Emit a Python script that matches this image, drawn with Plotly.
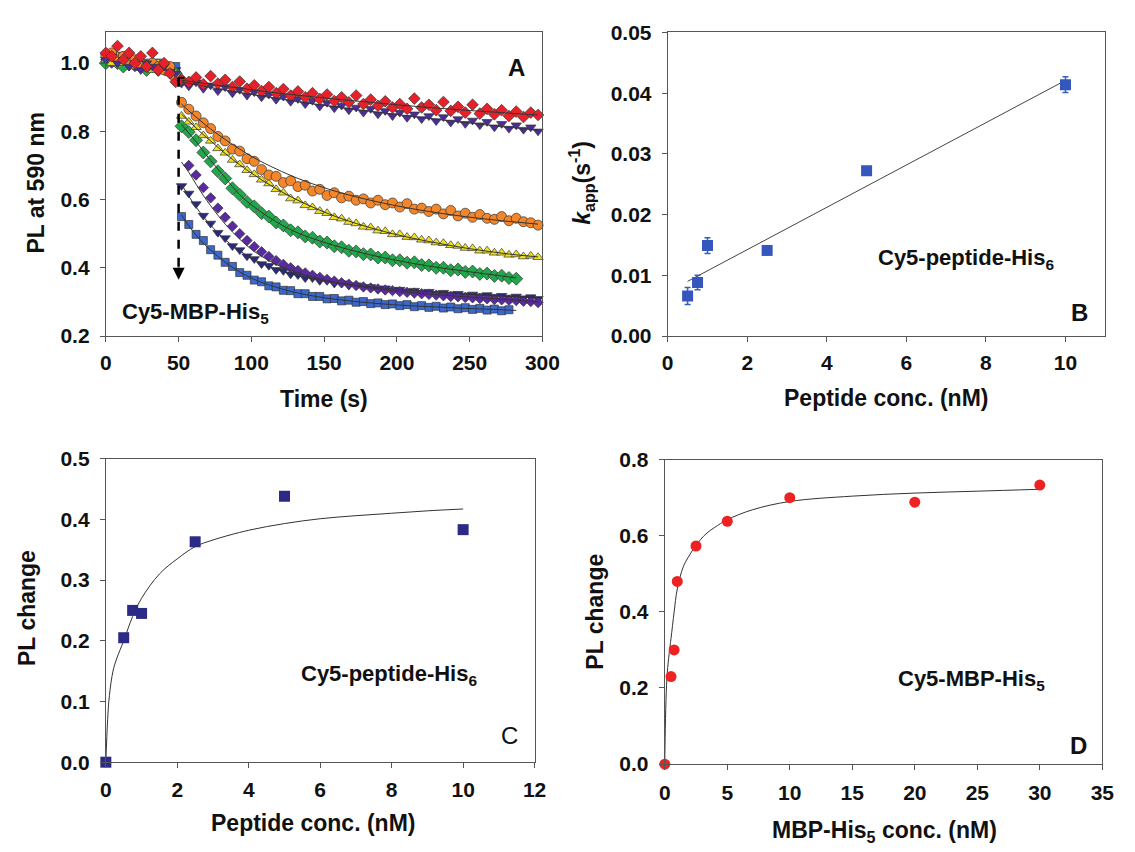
import plotly.graph_objects as go

W, H = 1135, 852

# ---------------- Panel A data (PL at 590 nm vs time) ----------------
T_PRE = [0, 4, 8, 12, 16, 20, 24, 28, 32, 36, 40, 44, 48]
T_POST = [52, 57, 62, 67, 72, 77, 82, 87, 92, 97, 102, 107, 112, 117, 122, 127, 132, 137,
          142, 147, 152, 157, 162, 167, 172, 177, 182, 187, 192, 197, 202, 207, 212, 217,
          222, 227, 232, 237, 242, 247, 252, 257, 262, 267, 272, 277, 282, 287, 292, 297]

RED_PRE = [1.03, 1.02, 1.05, 1.01, 1.03, 1.00, 1.02, 0.99, 1.03, 0.98, 1.00, 0.97, 0.945]
RED_POST = [0.952, 0.945, 0.958, 0.938, 0.962, 0.940, 0.951, 0.930, 0.946, 0.925, 0.935, 0.918,
            0.930, 0.912, 0.924, 0.905, 0.917, 0.900, 0.912, 0.895, 0.908, 0.889, 0.900, 0.885,
            0.905, 0.880, 0.893, 0.875, 0.888, 0.870, 0.880, 0.866, 0.896, 0.870, 0.878, 0.862,
            0.886, 0.860, 0.872, 0.855, 0.878, 0.852, 0.866, 0.850, 0.862, 0.845, 0.858, 0.842,
            0.855, 0.848]

VIOT_PRE = [1.01, 1.02, 1.00, 1.01, 0.99, 1.00, 0.98, 1.00, 0.99, 0.98, 0.99, 0.975, 0.97]
VIOT_POST = [0.940, 0.932, 0.944, 0.925, 0.935, 0.918, 0.930, 0.912, 0.922, 0.905, 0.915, 0.900,
             0.908, 0.893, 0.902, 0.887, 0.895, 0.880, 0.890, 0.873, 0.884, 0.868, 0.876, 0.862,
             0.870, 0.855, 0.866, 0.850, 0.860, 0.845, 0.855, 0.840, 0.850, 0.836, 0.845, 0.830,
             0.842, 0.826, 0.836, 0.822, 0.832, 0.818, 0.828, 0.812, 0.822, 0.808, 0.818, 0.805,
             0.812, 0.800]

ORANGE_PRE = [1.02, 1.03, 1.01, 1.02, 1.00, 1.01, 1.00, 0.99, 1.00, 0.99, 0.98, 0.99, 0.955]
ORANGE_POST = [0.885, 0.865, 0.845, 0.825, 0.808, 0.785, 0.772, 0.748, 0.742, 0.720, 0.712, 0.688,
               0.672, 0.668, 0.650, 0.655, 0.638, 0.642, 0.625, 0.630, 0.612, 0.620, 0.605, 0.610,
               0.598, 0.602, 0.590, 0.598, 0.585, 0.590, 0.578, 0.588, 0.572, 0.575, 0.565, 0.572,
               0.558, 0.568, 0.552, 0.560, 0.548, 0.556, 0.545, 0.542, 0.550, 0.538, 0.545, 0.535,
               0.532, 0.525]

YELLOW_PRE = [1.01, 1.00, 1.02, 1.00, 1.01, 0.99, 1.00, 0.99, 0.98, 1.00, 0.98, 0.97, 0.97]
YELLOW_POST = [0.845, 0.828, 0.812, 0.788, 0.772, 0.750, 0.737, 0.716, 0.703, 0.686, 0.674, 0.658,
               0.647, 0.630, 0.620, 0.603, 0.597, 0.583, 0.577, 0.566, 0.560, 0.548, 0.544, 0.534,
               0.530, 0.520, 0.518, 0.509, 0.507, 0.498, 0.498, 0.490, 0.489, 0.482, 0.480, 0.474,
               0.472, 0.466, 0.464, 0.458, 0.457, 0.450, 0.450, 0.444, 0.444, 0.438, 0.439, 0.433,
               0.435, 0.431]

GREEN_PRE = [1.00, 1.01, 1.00, 0.99, 1.00, 1.00, 0.99, 0.98, 0.99, 0.98, 0.99, 0.98, 0.97]
GREEN_POST = [0.815, 0.798, 0.774, 0.738, 0.712, 0.683, 0.662, 0.633, 0.614, 0.593, 0.580, 0.560,
              0.550, 0.533, 0.524, 0.510, 0.504, 0.492, 0.488, 0.477, 0.474, 0.463, 0.460, 0.450,
              0.448, 0.440, 0.439, 0.430, 0.430, 0.422, 0.422, 0.415, 0.416, 0.408, 0.407, 0.400,
              0.400, 0.393, 0.395, 0.388, 0.389, 0.382, 0.383, 0.376, 0.377, 0.370, 0.368, None,
              None, None]

VIOD_PRE = [1.01, 1.00, 1.01, 0.99, 1.00, 0.99, 1.00, 0.98, 0.99, 0.99, 0.98, 0.98, 0.97]
VIOD_POST = [None, 0.700, 0.672, 0.635, 0.605, 0.575, 0.548, 0.522, 0.500, 0.480, 0.462, 0.447,
             0.433, 0.421, 0.410, 0.400, 0.392, 0.385, 0.378, 0.372, 0.366, 0.361, 0.356, 0.352,
             0.348, 0.344, 0.341, 0.338, 0.335, 0.333, 0.330, 0.328, 0.326, 0.324, 0.322, 0.320,
             0.318, 0.316, 0.315, 0.313, 0.312, 0.310, 0.309, 0.307, 0.306, 0.305, 0.304, 0.302,
             0.301, 0.298]

NAVY_PRE = [1.02, 1.01, 1.00, 1.01, 0.99, 1.00, 0.99, 0.99, 1.00, 0.98, 0.99, 0.98, 0.98]
NAVY_POST = [0.640, 0.618, 0.587, 0.553, 0.530, 0.503, 0.487, 0.464, 0.452, 0.434, 0.426, 0.411,
             0.406, 0.394, 0.391, 0.381, 0.379, 0.370, 0.370, 0.362, 0.362, 0.354, 0.355, 0.348,
             0.349, 0.343, 0.344, 0.338, 0.340, 0.334, 0.336, 0.330, 0.333, 0.327, 0.330, 0.324,
             0.327, 0.322, 0.324, 0.319, 0.322, 0.317, 0.320, 0.315, 0.318, 0.313, 0.316, 0.311,
             0.314, 0.309]

BLUE_PRE = [1.02, 1.01, 1.02, 1.00, 1.01, 1.00, 0.99, 1.00, 0.99, 1.00, 0.99, 0.98, 0.99]
BLUE_POST = [0.550, 0.527, 0.498, 0.480, 0.453, 0.437, 0.416, 0.404, 0.386, 0.378, 0.364, 0.359,
             0.347, 0.344, 0.334, 0.333, 0.324, 0.324, 0.316, 0.316, 0.309, 0.310, 0.303, 0.305,
             0.299, 0.301, 0.295, 0.297, 0.292, 0.294, 0.289, 0.292, 0.286, 0.289, 0.284, 0.287,
             0.282, 0.285, 0.280, 0.283, 0.278, 0.281, 0.276, 0.279, 0.274, 0.277, None, None,
             None, None]

# fitted curves
FIT_T = [52, 57, 62, 67, 72, 82, 92, 102, 117, 132, 152, 172, 197, 222, 247, 272, 282, 297]
FIT_RED = [0.950, 0.947, 0.944, 0.941, 0.938, 0.932, 0.927, 0.921, 0.913, 0.906, 0.897, 0.889,
           0.879, 0.870, 0.862, 0.855, 0.852, 0.848]
FIT_VIOT = [0.945, 0.941, 0.937, 0.933, 0.929, 0.921, 0.914, 0.907, 0.897, 0.887, 0.875, 0.864,
            0.851, 0.838, 0.826, 0.814, 0.810, 0.803]
FIT_ORANGE = [0.880, 0.860, 0.842, 0.824, 0.807, 0.776, 0.748, 0.722, 0.690, 0.662, 0.632, 0.608,
              0.584, 0.565, 0.550, 0.538, 0.534, 0.528]
FIT_YELLOW = [0.850, 0.830, 0.810, 0.790, 0.772, 0.735, 0.702, 0.672, 0.632, 0.598, 0.560, 0.530,
              0.500, 0.477, 0.458, 0.443, 0.438, 0.432]
FIT_GREEN = [0.820, 0.795, 0.770, 0.742, 0.715, 0.664, 0.614, 0.578, 0.535, 0.502, 0.472, 0.448,
             0.424, 0.405, 0.390, 0.376, 0.370, None]
FIT_VIOD = [0.710, 0.680, 0.645, 0.612, 0.582, 0.528, 0.484, 0.448, 0.410, 0.385, 0.362, 0.347,
            0.333, 0.323, 0.315, 0.308, 0.305, 0.300]
FIT_NAVY = [0.645, 0.610, 0.578, 0.550, 0.525, 0.482, 0.450, 0.424, 0.396, 0.378, 0.360, 0.349,
            0.338, 0.330, 0.323, 0.317, 0.315, 0.312]
FIT_BLUE = [0.555, 0.523, 0.496, 0.472, 0.452, 0.416, 0.388, 0.366, 0.343, 0.326, 0.311, 0.301,
            0.292, 0.286, 0.281, 0.277, 0.275, None]

# ---------------- Panel B data (k_app vs peptide conc.) ----------------
B_CONC = [0.5, 0.75, 1.0, 2.5, 5.0, 10.0]
B_KAPP = [0.0066, 0.0088, 0.0149, 0.0141, 0.0272, 0.0414]
B_ERR = [0.0014, 0.0012, 0.0013, 0.0007, 0.0006, 0.0013]
B_FIT_X = [0.5, 10.0]
B_FIT_Y = [0.0090, 0.0421]

# ---------------- Panel C data (PL change vs peptide conc.) ----------------
C_CONC = [0.0, 0.5, 0.75, 1.0, 2.5, 5.0, 10.0]
C_PL = [0.0, 0.205, 0.250, 0.245, 0.363, 0.438, 0.383]
C_FIT_X = [0.0, 0.05, 0.1, 0.2, 0.3, 0.5, 0.75, 1.0, 1.5, 2.0, 2.5, 3.0, 4.0, 5.0, 6.0, 7.0, 8.0, 9.0, 10.0]
C_FIT_Y = [0.0, 0.07, 0.11, 0.15, 0.17, 0.20, 0.24, 0.27, 0.31, 0.335, 0.355, 0.366, 0.382, 0.393,
           0.401, 0.406, 0.410, 0.414, 0.417]

# ---------------- Panel D data (PL change vs MBP-His5 conc.) ----------------
D_CONC = [0.0, 0.5, 0.75, 1.0, 2.5, 5.0, 10.0, 20.0, 30.0]
D_PL = [0.0, 0.23, 0.30, 0.48, 0.573, 0.638, 0.700, 0.688, 0.733]
D_FIT_X = [0.0, 0.03, 0.1, 0.2, 0.35, 0.5, 0.75, 1.0, 1.5, 2.0, 2.5, 3.3, 4.0, 5.0, 7.0, 10.0,
           15.0, 20.0, 25.0, 30.0]
D_FIT_Y = [0.0, 0.07, 0.17, 0.24, 0.29, 0.33, 0.40, 0.46, 0.52, 0.55, 0.575, 0.605, 0.622, 0.642,
           0.668, 0.690, 0.704, 0.712, 0.717, 0.722]

FONT = "Liberation Sans, Arial, sans-serif"
AXC = "#555555"
TXT = "#111111"

fig = go.Figure()

# ---- panel A traces ----
seriesA = [
    (BLUE_PRE, BLUE_POST, "square", 8, "#3a68cc"),
    (NAVY_PRE, NAVY_POST, "triangle-down", 9, "#28288a"),
    (VIOD_PRE, VIOD_POST, "diamond", 8, "#5a2aa0"),
    (GREEN_PRE, GREEN_POST, "diamond", 10, "#22a84a"),
    (YELLOW_PRE, YELLOW_POST, "triangle-up", 9, "#f0e21e"),
    (ORANGE_PRE, ORANGE_POST, "circle", 10, "#f3862a"),
    (VIOT_PRE, VIOT_POST, "triangle-down", 9, "#4c2c9c"),
    (RED_PRE, RED_POST, "diamond", 9, "#e8202a"),
]
for pre, post, sym, size, col in seriesA:
    fig.add_trace(go.Scatter(
        x=T_PRE + T_POST, y=pre + post, mode="markers", xaxis="x", yaxis="y",
        marker=dict(symbol=sym, size=size, color=col, line=dict(color="#333333", width=0.7)),
        showlegend=False, cliponaxis=False))

for fy in [FIT_BLUE, FIT_NAVY, FIT_VIOD, FIT_GREEN, FIT_YELLOW, FIT_ORANGE, FIT_VIOT, FIT_RED]:
    fig.add_trace(go.Scatter(
        x=FIT_T, y=fy, mode="lines", xaxis="x", yaxis="y",
        line=dict(color="#333333", width=1, shape="spline"), showlegend=False))

# ---- panel B ----
fig.add_trace(go.Scatter(x=B_FIT_X, y=B_FIT_Y, mode="lines", xaxis="x2", yaxis="y2",
                         line=dict(color="#444444", width=1), showlegend=False))
fig.add_trace(go.Scatter(x=B_CONC, y=B_KAPP, mode="markers", xaxis="x2", yaxis="y2",
                         error_y=dict(type="data", array=B_ERR, color="#3a5cc0", thickness=1.5, width=3),
                         marker=dict(symbol="square", size=11, color="#3557bd"), showlegend=False))

# ---- panel C ----
fig.add_trace(go.Scatter(x=C_FIT_X, y=C_FIT_Y, mode="lines", xaxis="x3", yaxis="y3",
                         line=dict(color="#333333", width=1, shape="spline"), showlegend=False))
fig.add_trace(go.Scatter(x=C_CONC, y=C_PL, mode="markers", xaxis="x3", yaxis="y3",
                         marker=dict(symbol="square", size=11, color="#2b2b86"), showlegend=False,
                         cliponaxis=False))

# ---- panel D ----
fig.add_trace(go.Scatter(x=D_FIT_X, y=D_FIT_Y, mode="lines", xaxis="x4", yaxis="y4",
                         line=dict(color="#333333", width=1, shape="spline"), showlegend=False))
fig.add_trace(go.Scatter(x=D_CONC, y=D_PL, mode="markers", xaxis="x4", yaxis="y4",
                         marker=dict(symbol="circle", size=11, color="#ee2222"), showlegend=False,
                         cliponaxis=False))


def px(x):
    return x / W


def py(y):
    return 1 - y / H


def ax_style(rng, dtick, fmt, dom, standoff):
    return dict(range=rng, dtick=dtick, tick0=0, tickformat=fmt, domain=dom, showline=True,
                linecolor=AXC, linewidth=1, mirror=True, ticks="outside", ticklen=5, tickcolor=AXC,
                showgrid=False, zeroline=False, ticklabelstandoff=standoff,
                tickfont=dict(family=FONT, size=21, color=TXT, weight="bold"))


fig.update_layout(
    width=W, height=H, margin=dict(l=0, r=0, t=0, b=0),
    paper_bgcolor="white", plot_bgcolor="white",
    xaxis=ax_style([0, 300], 50, "d", [px(102), px(548)], 3),
    yaxis=ax_style([0.2, 1.09], 0.2, ".1f", [py(333), py(21)], 6),
    xaxis2=ax_style([0, 11], 2, "d", [px(676), px(1123)], 3),
    yaxis2=ax_style([0, 0.05], 0.01, ".2f", [py(333), py(21)], 6),
    xaxis3=ax_style([0, 12], 2, "d", [px(102), px(540)], 4),
    yaxis3=ax_style([0, 0.5], 0.1, ".1f", [py(771), py(459)], 6),
    xaxis4=ax_style([0, 35], 5, "d", [px(673), px(1120)], 5),
    yaxis4=ax_style([0, 0.8], 0.2, ".1f", [py(773), py(460)], 6),
)
fig.layout.yaxis.tickvals = [0.2, 0.4, 0.6, 0.8, 1.0]
fig.layout.xaxis2.tickvals = [0, 2, 4, 6, 8, 10]
for i in ("2", "3", "4"):
    fig.layout["xaxis" + i].anchor = "y" + i
    fig.layout["yaxis" + i].anchor = "x" + i

# dashed injection arrow in panel A
ARROW_T = 50
ARROW_TOP = 0.957
ARROW_BOT = 0.385
ARROW_TIP = 0.365
fig.add_shape(type="line", xref="x", yref="y", x0=ARROW_T, x1=ARROW_T, y0=ARROW_TOP, y1=ARROW_BOT,
              line=dict(color="black", width=2.5, dash="dash"))
fig.add_shape(type="line", xref="x", yref="y", x0=ARROW_T, x1=ARROW_T + 4, y0=ARROW_TOP, y1=ARROW_TOP,
              line=dict(color="black", width=2))
fig.add_annotation(x=ARROW_T, y=ARROW_TIP, ax=ARROW_T, ay=ARROW_BOT + 0.02, xref="x", yref="y",
                   axref="x", ayref="y", text="", showarrow=True, arrowhead=2, arrowsize=1.2,
                   arrowwidth=2, arrowcolor="black")

TF = dict(family=FONT, size=23, color=TXT, weight="bold")
LF = dict(family=FONT, size=22, color=TXT, weight="bold")
LETTER = dict(family=FONT, size=24, color=TXT, weight="bold")


def ann(text, x, y, xref="paper", yref="paper", angle=0, font=TF, xanchor="center", yanchor="middle"):
    fig.add_annotation(text=text, x=x, y=y, xref=xref, yref=yref, textangle=angle, font=font,
                       showarrow=False, xanchor=xanchor, yanchor=yanchor)


# axis titles
ann("PL at 590 nm", px(31), py(176), angle=-90)
ann("Time (s)", px(325), py(398))
ann("<i>k</i><sub>app</sub>(s<sup>-1</sup>)", px(588), py(176), angle=-90)
ann("Peptide conc. (nM)", px(899), py(397))
ann("PL change", px(22), py(613), angle=-90)
ann("Peptide conc. (nM)", px(314), py(834))
ann("PL change", px(602), py(616), angle=-90)
ann("MBP-His<sub>5</sub> conc. (nM)", px(897), py(842))

# in-panel labels
ann("A", 282, 0.986, xref="x", yref="y", font=LETTER)
ann("Cy5-MBP-His<sub>5</sub>", 10, 0.268, xref="x", yref="y", xanchor="left", font=LF)
ann("Cy5-peptide-His<sub>6</sub>", 7.5, 0.0127, xref="x2", yref="y2", font=LF)
ann("B", 10.35, 0.0039, xref="x2", yref="y2", font=LETTER)
ann("Cy5-peptide-His<sub>6</sub>", 7.93, 0.143, xref="x3", yref="y3", font=LF)
ann("C", 11.29, 0.044, xref="x3", yref="y3", font=dict(family=FONT, size=24, color=TXT, weight="normal"))
ann("Cy5-MBP-His<sub>5</sub>", 24.5, 0.22, xref="x4", yref="y4", font=LF)
ann("D", 33.1, 0.049, xref="x4", yref="y4", font=LETTER)

fig.write_html("out.html")
